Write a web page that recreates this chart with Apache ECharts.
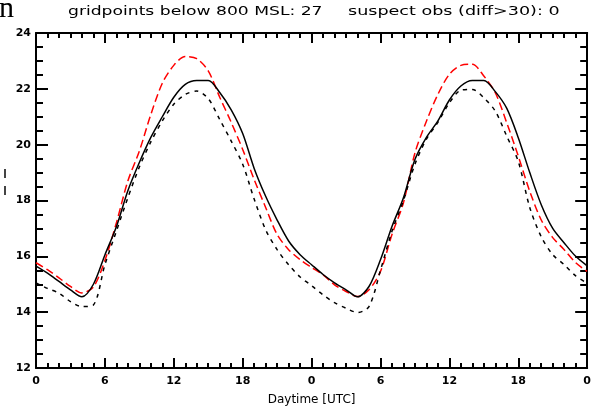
<!DOCTYPE html>
<html>
<head>
<meta charset="utf-8">
<script src="https://cdn.jsdelivr.net/npm/echarts@6/dist/echarts.min.js"></script>
<style>
  html, body { margin: 0; padding: 0; background: #fff; }
  #chart { width: 594px; height: 412px; }
</style>
</head>
<body>
<div id="chart"></div>
<script>
// Hourly time axis over two days (hours 0..48)
const hours = Array.from({ length: 49 }, (_, i) => i);

// Red long-dashed curve
const redDashed = [
  15.77, 15.52, 15.23, 14.92, 14.69, 14.90, 15.85, 17.20, 18.70, 19.77,
  21.08, 22.20, 22.84, 23.16, 23.08, 22.64, 21.70, 20.80, 19.83, 18.75,
  17.75, 16.78, 16.24, 15.88, 15.60, 15.34, 14.98, 14.74, 14.56, 14.80,
  15.46, 16.78, 17.92, 19.70, 20.84, 21.80, 22.52, 22.84, 22.88, 22.46,
  21.86, 20.78, 19.59, 18.33, 17.30, 16.67, 16.24, 15.77, 15.46
];

// Black solid curve
const blackSolid = [
  15.65, 15.40, 15.10, 14.80, 14.55, 15.00, 16.05, 17.06, 18.35, 19.36,
  20.26, 21.00, 21.70, 22.16, 22.30, 22.30, 21.87, 21.25, 20.40, 19.15,
  18.15, 17.30, 16.55, 16.06, 15.70, 15.35, 15.05, 14.80, 14.55, 14.92,
  15.88, 17.07, 18.10, 19.47, 20.26, 20.85, 21.60, 22.10, 22.30, 22.30,
  21.90, 21.30, 20.25, 19.00, 17.85, 17.00, 16.48, 16.00, 15.66
];

// Black short-dashed curve
const blackDashed = [
  15.05, 14.85, 14.68, 14.38, 14.20, 14.26, 15.70, 16.90, 18.10, 19.20,
  20.10, 20.85, 21.45, 21.80, 21.92, 21.65, 20.90, 20.13, 19.30, 18.05,
  16.95, 16.24, 15.70, 15.26, 14.95, 14.62, 14.34, 14.14, 13.99, 14.20,
  15.50, 16.90, 18.00, 19.30, 20.20, 20.80, 21.50, 21.95, 21.98, 21.68,
  21.20, 20.30, 19.40, 17.75, 16.70, 16.06, 15.70, 15.30, 15.04
];

// Axis tick settings
const xTickStep = 6;
const yTickStep = 2;

const pairs = vals => hours.map((h, i) => [h, vals[i]]);

const axisColor = '#000';
const labelFont = { fontFamily: 'DejaVu Sans', fontSize: 11, fontWeight: 'bold', color: '#000' };

const chart = echarts.init(document.getElementById('chart'), null, { renderer: 'canvas' });

const xCommon = {
  type: 'value', min: 0, max: 48, interval: xTickStep,
  axisLine: { show: true, onZero: false, lineStyle: { color: axisColor, width: 2 } },
  axisTick: { show: true, inside: true, length: 10, lineStyle: { color: axisColor, width: 2 } },
  minorTick: { show: true, splitNumber: 6, length: 5, lineStyle: { color: axisColor, width: 2 } },
  splitLine: { show: false }, minorSplitLine: { show: false }
};
const yCommon = {
  type: 'value', min: 12, max: 24, interval: yTickStep,
  axisLine: { show: true, onZero: false, lineStyle: { color: axisColor, width: 2 } },
  axisTick: { show: true, inside: true, length: 12, lineStyle: { color: axisColor, width: 2 } },
  minorTick: { show: true, splitNumber: 4, length: 7, lineStyle: { color: axisColor, width: 2 } },
  splitLine: { show: false }, minorSplitLine: { show: false }
};

chart.setOption({
  animation: false,
  backgroundColor: '#fff',
  grid: { left: 36, right: 2, top: 33, bottom: 44 },
  xAxis: [
    Object.assign({}, xCommon, {
      position: 'bottom',
      axisLabel: Object.assign({}, labelFont, { margin: 8, formatter: v => String(v % 24) }),
      name: 'Daytime [UTC]', nameLocation: 'middle', nameGap: 26,
      nameTextStyle: { fontFamily: 'DejaVu Sans', fontSize: 12, color: '#000' }
    }),
    Object.assign({}, xCommon, { position: 'top', axisLabel: { show: false } })
  ],
  yAxis: [
    Object.assign({}, yCommon, {
      position: 'left',
      axisLabel: Object.assign({}, labelFont, { margin: 5 })
    }),
    Object.assign({}, yCommon, { position: 'right', axisLabel: { show: false } })
  ],
  series: [
    {
      type: 'line', data: pairs(redDashed), symbol: 'none', smooth: 0.3,
      lineStyle: { color: '#ff0000', width: 1.5, type: [8, 4] }
    },
    {
      type: 'line', data: pairs(blackDashed), symbol: 'none', smooth: 0.3,
      lineStyle: { color: '#000', width: 1.5, type: [4, 5] }
    },
    {
      type: 'line', data: pairs(blackSolid), symbol: 'none', smooth: 0.3,
      lineStyle: { color: '#000', width: 1.5 }
    }
  ],
  graphic: [
    {
      type: 'text', x: 68, y: 5, scaleX: 1.32,
      style: { text: 'gridpoints below 800 MSL: 27', fontFamily: 'DejaVu Sans', fontSize: 13, fill: '#000', verticalAlign: 'top' }
    },
    {
      type: 'text', x: 348, y: 5, scaleX: 1.35,
      style: { text: 'suspect obs (diff>30): 0', fontFamily: 'DejaVu Sans', fontSize: 13, fill: '#000', verticalAlign: 'top' }
    },
    {
      type: 'text', left: -1, top: -6,
      style: { text: 'n', fontFamily: 'Liberation Serif', fontSize: 30, fill: '#000' }
    },
    {
      type: 'text', left: 2, top: 166,
      style: { text: '¦', fontFamily: 'Liberation Serif', fontSize: 30, fill: '#000' }
    }
  ]
});
</script>
</body>
</html>
